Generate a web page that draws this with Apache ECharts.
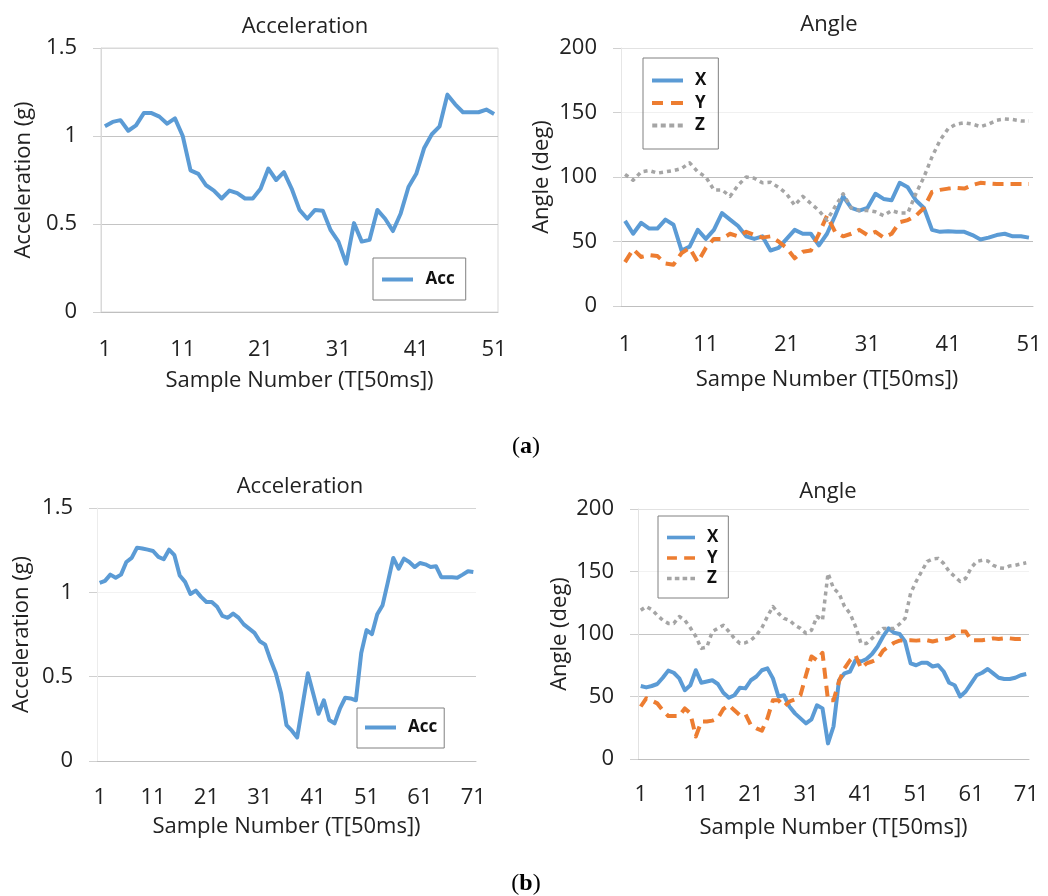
<!DOCTYPE html>
<html>
<head>
<meta charset="utf-8">
<script src="https://cdn.jsdelivr.net/npm/echarts@6/dist/echarts.min.js"></script>
<style>
  html, body { margin: 0; padding: 0; background: #fff; }
  #chart { width: 1048px; height: 896px; }
</style>
</head>
<body>
<div id="chart"></div>
<script>
// x categories
var samplesA = [];
for (var i = 1; i <= 51; i++) samplesA.push(String(i));
var samplesB = [];
for (var j = 1; j <= 71; j++) samplesB.push(String(j));

// (a) acceleration
var accA = [1.055, 1.08, 1.09, 1.03, 1.06, 1.13, 1.13, 1.11, 1.07, 1.10,
  1.0, 0.805, 0.785, 0.72, 0.69, 0.645, 0.69, 0.675, 0.645, 0.645,
  0.70, 0.815, 0.75, 0.795, 0.70, 0.58, 0.53, 0.58, 0.575, 0.465,
  0.40, 0.275, 0.505, 0.40, 0.41, 0.58, 0.53, 0.46, 0.56, 0.71,
  0.785, 0.93, 1.01, 1.055, 1.235, 1.18, 1.135, 1.135, 1.135, 1.15, 1.125];

// (a) angles
var angleXA = [66, 56, 64.5, 60, 60, 67, 63, 43, 46, 59,
  52, 59, 72, 67, 62, 54, 52, 54, 43, 45,
  52, 59, 56, 56, 47, 56, 70, 85, 76, 74,
  76, 87, 83, 82, 95.5, 92, 82, 76, 59, 57.5,
  58, 57.5, 57.5, 55, 51.6, 53, 55, 56, 54, 54, 53];
var angleYA = [34, 44, 38, 39.5, 38.7, 33, 32, 41, 45, 34,
  45, 52, 52, 56, 54, 57.5, 55, 53, 54, 50,
  45, 37, 42, 43, 56, 70, 57.5, 54, 56, 59,
  55, 57.5, 53, 56, 65, 66.6, 70, 76, 88.5, 90,
  91, 91.6, 91, 93.7, 95.5, 95, 94.5, 94.5, 94.5, 94.5, 94.5];
var angleZA = [102, 97.5, 104, 105, 103, 104, 105, 106.6, 111, 104,
  100, 90, 90, 85, 93.7, 100, 99, 95.5, 96, 92,
  87, 78, 85, 79.5, 74, 66.6, 77, 87, 76, 74,
  74, 73, 70, 74, 72, 72, 87, 100, 115.6, 128.5,
  137.5, 141, 142, 141, 139, 141, 144, 145, 144.5, 143.5, 143.5];

// (b) acceleration
var accB = [1.056, 1.068, 1.105, 1.087, 1.105, 1.18, 1.204, 1.265, 1.26, 1.253,
  1.245, 1.21, 1.196, 1.253, 1.22, 1.10, 1.062, 0.99, 1.01, 0.973,
  0.943, 0.943, 0.914, 0.86, 0.849, 0.874, 0.85, 0.81, 0.785, 0.76,
  0.71, 0.69, 0.60, 0.52, 0.40, 0.213, 0.18, 0.14, 0.33, 0.52,
  0.40, 0.28, 0.36, 0.243, 0.223, 0.31, 0.375, 0.371, 0.36, 0.64,
  0.776, 0.752, 0.87, 0.924, 1.062, 1.204, 1.14, 1.20, 1.18, 1.15,
  1.174, 1.166, 1.15, 1.155, 1.09, 1.09, 1.09, 1.087, 1.105, 1.125, 1.12];

// (b) angles
var angleXB = [58.4, 57.3, 58.4, 60, 65, 70.7, 69, 64.5, 55, 59,
  71, 61, 62, 63, 60, 53, 49, 51, 57, 56.5,
  63, 66, 71, 72.5, 64.5, 50, 51, 42, 36.5, 32.5,
  28.5, 31.7, 43, 40.5, 12.5, 26, 63, 68.5, 70, 79,
  78, 80, 84, 90, 98, 104.5, 101, 100, 94, 76.5,
  75, 77, 77, 74, 75, 70, 61, 59, 50, 54,
  60.5, 67, 69, 72, 68.5, 65, 64, 64, 65, 67, 68];
var angleYB = [42, 48.5, 46.7, 44.5, 39, 34.4, 34.4, 34.4, 40.5, 36.5,
  18, 30, 30, 30.7, 32.5, 40, 43, 39, 35, 36,
  27, 24.5, 22.7, 32.5, 47, 47, 42, 46, 47.7, 51,
  67, 82, 79, 85, 47, 47, 62, 72.5, 79, 83,
  72.5, 76.5, 78, 80, 86.7, 90, 93, 94.7, 95, 95,
  94.7, 95, 95, 94, 95, 95.7, 96.5, 99, 102, 102,
  95, 95, 95, 95.7, 96.5, 96, 96.5, 96.5, 96, 96, 96.5];
var angleZB = [119, 122, 119.5, 115, 111, 108.5, 108.5, 114, 111, 105,
  98, 88.5, 89.5, 101.9, 104.5, 107, 102, 96.5, 92.5, 93,
  95, 99, 105, 114, 122, 116.5, 112.5, 111, 107, 104.5,
  100.5, 103, 114, 111, 148.5, 136.5, 132.5, 122, 116.5, 106,
  92.5, 92.5, 96.5, 100.5, 104.5, 104.5, 104.5, 108, 112.5, 132.5,
  142, 150, 158, 160, 160.5, 156.5, 150, 146, 142, 144.5,
  153, 158, 159, 158.5, 155, 153, 152.5, 154.5, 155, 156, 157];

var FONT = '"Open Sans", "Noto Sans", sans-serif';
var BLUE = '#5b9bd5', ORANGE = '#ed7d31', GRAY = '#a5a5a5';

// legend icons drawn like the line styles
var ICON_SOLID = 'path://M0,0h31v4h-31z';
var ICON_DASH = 'path://M0,0h11v4h-11z M19,0h12v4h-12z';
var ICON_DOT = 'path://M0,0h5v4h-5z M8.5,0h5v4h-5z M17,0h5v4h-5z M25.5,0h5v4h-5z';

function xAxis(grid, cats, labelMargin, nameGap, name) {
  return {
    type: 'category', gridIndex: grid, data: cats, boundaryGap: true,
    name: name, nameLocation: 'middle', nameGap: nameGap,
    nameTextStyle: { fontFamily: FONT, fontSize: 22, color: '#222' },
    axisLine: { lineStyle: { color: '#bfbfbf', width: 1 } },
    axisTick: { interval: 9, length: 8, lineStyle: { color: '#bfbfbf' } },
    axisLabel: { interval: 9, margin: labelMargin, fontFamily: FONT, fontSize: 22, color: '#222' },
    splitLine: { show: false }
  };
}

function yAxis(grid, max, step, nameGap, name, splitColors, axisColor) {
  return {
    type: 'value', gridIndex: grid, min: 0, max: max, interval: step,
    name: name, nameLocation: 'middle', nameGap: nameGap,
    nameTextStyle: { fontFamily: FONT, fontSize: 22, color: '#222' },
    axisLine: { show: true, lineStyle: { color: axisColor } },
    axisTick: { show: true, length: 8, lineStyle: { color: '#d0d0d0' } },
    axisLabel: { margin: 24, fontFamily: FONT, fontSize: 22, color: '#222' },
    splitLine: { show: true, lineStyle: { color: splitColors, width: 1 } }
  };
}

function line(name, data, xi, color, type, width) {
  return {
    name: name, type: 'line', xAxisIndex: xi, yAxisIndex: xi, data: data,
    symbol: 'none', smooth: false, animation: false,
    lineStyle: { color: color, width: width, type: type, cap: 'butt', join: 'round' },
    itemStyle: { color: color }
  };
}

function legend(items, left, top, padding, gap, itemWidth) {
  return {
    data: items, orient: 'vertical', left: left, top: top,
    padding: padding, itemGap: gap, itemWidth: itemWidth, itemHeight: 4,
    selectedMode: false, borderColor: '#808080', borderWidth: 1,
    textStyle: { fontFamily: FONT, fontSize: 17, fontWeight: 'bold', color: '#111', padding: [0, 0, 0, 7] }
  };
}

var xyzItems = [
  { name: 'X', icon: ICON_SOLID },
  { name: 'Y', icon: ICON_DASH },
  { name: 'Z', icon: ICON_DOT }
];

var titleStyle = { fontFamily: FONT, fontSize: 22, fontWeight: 'normal', color: '#222' };
var captionRich = { b: { fontFamily: '"Liberation Serif", serif', fontSize: 24, fontWeight: 'bold', fill: '#000' } };

var chart = echarts.init(document.getElementById('chart'), null, { renderer: 'canvas' });
chart.setOption({
  backgroundColor: '#fff',
  animation: false,
  title: [
    { text: 'Acceleration', left: 300, top: 11, textAlign: 'center', textStyle: titleStyle },
    { text: 'Angle', left: 824, top: 9, textAlign: 'center', textStyle: titleStyle },
    { text: 'Acceleration', left: 295, top: 471, textAlign: 'center', textStyle: titleStyle },
    { text: 'Angle', left: 823, top: 476, textAlign: 'center', textStyle: titleStyle }
  ],
  grid: [
    { left: 101, top: 48, width: 397, height: 264, show: true, borderColor: '#d9d9d9', borderWidth: 1 },
    { left: 621, top: 48, width: 412, height: 258 },
    { left: 97, top: 508, width: 379, height: 253 },
    { left: 638, top: 509, width: 391, height: 250 }
  ],
  xAxis: [
    xAxis(0, samplesA, 27, 58, 'Sample Number (T[50ms])'),
    xAxis(1, samplesA, 28, 63, 'Sampe Number (T[50ms])'),
    xAxis(2, samplesB, 26, 55, 'Sample Number (T[50ms])'),
    xAxis(3, samplesB, 25, 58, 'Sample Number (T[50ms])')
  ],
  yAxis: [
    yAxis(0, 1.5, 0.5, 66, 'Acceleration (g)', ['#d9d9d9', '#c4c4c4', '#c4c4c4', '#d9d9d9'], '#d9d9d9'),
    yAxis(1, 200, 50, 68, 'Angle (deg)', ['#d9d9d9', '#bcbcbc', '#bcbcbc', '#f0f0f0', '#e2e2e2'], '#e6e6e6'),
    yAxis(2, 1.5, 0.5, 64, 'Acceleration (g)', ['#d9d9d9', '#c8c8c8', '#f2f2f2', '#d4d4d4'], '#ececec'),
    yAxis(3, 200, 50, 67, 'Angle (deg)', ['#d9d9d9', '#c4c4c4', '#c4c4c4', '#f2f2f2', '#e2e2e2'], '#e2e2e2')
  ],
  legend: [
    legend([{ name: 'Acc', icon: ICON_SOLID }], 373, 258, [13, 11, 12, 9], 5, 32),
    legend(xyzItems, 643, 58, [14, 12, 15, 9], 5.5, 31),
    legend([{ name: 'Acc', icon: ICON_SOLID }], 357, 708, [11, 7, 12, 8], 5, 31),
    legend(xyzItems, 658, 516, [13, 10, 11, 9], 3.5, 28)
  ],
  series: [
    line('Acc', accA, 0, BLUE, 'solid', 4),
    line('X', angleXA, 1, BLUE, 'solid', 4),
    line('Y', angleYA, 1, ORANGE, [11, 7], 4),
    line('Z', angleZA, 1, GRAY, [4, 4], 3.5),
    line('Acc', accB, 2, BLUE, 'solid', 4),
    line('X', angleXB, 3, BLUE, 'solid', 4),
    line('Y', angleYB, 3, ORANGE, [11, 7], 4),
    line('Z', angleZB, 3, GRAY, [4, 4], 3.5)
  ],
  graphic: [
    {
      type: 'text', x: 526, y: 447,
      style: {
        text: '({b|a})', align: 'center', verticalAlign: 'middle',
        fontFamily: '"Liberation Serif", serif', fontSize: 24, fill: '#000', rich: captionRich
      }
    },
    {
      type: 'text', x: 526, y: 884,
      style: {
        text: '({b|b})', align: 'center', verticalAlign: 'middle',
        fontFamily: '"Liberation Serif", serif', fontSize: 24, fill: '#000', rich: captionRich
      }
    }
  ]
});
</script>
</body>
</html>
